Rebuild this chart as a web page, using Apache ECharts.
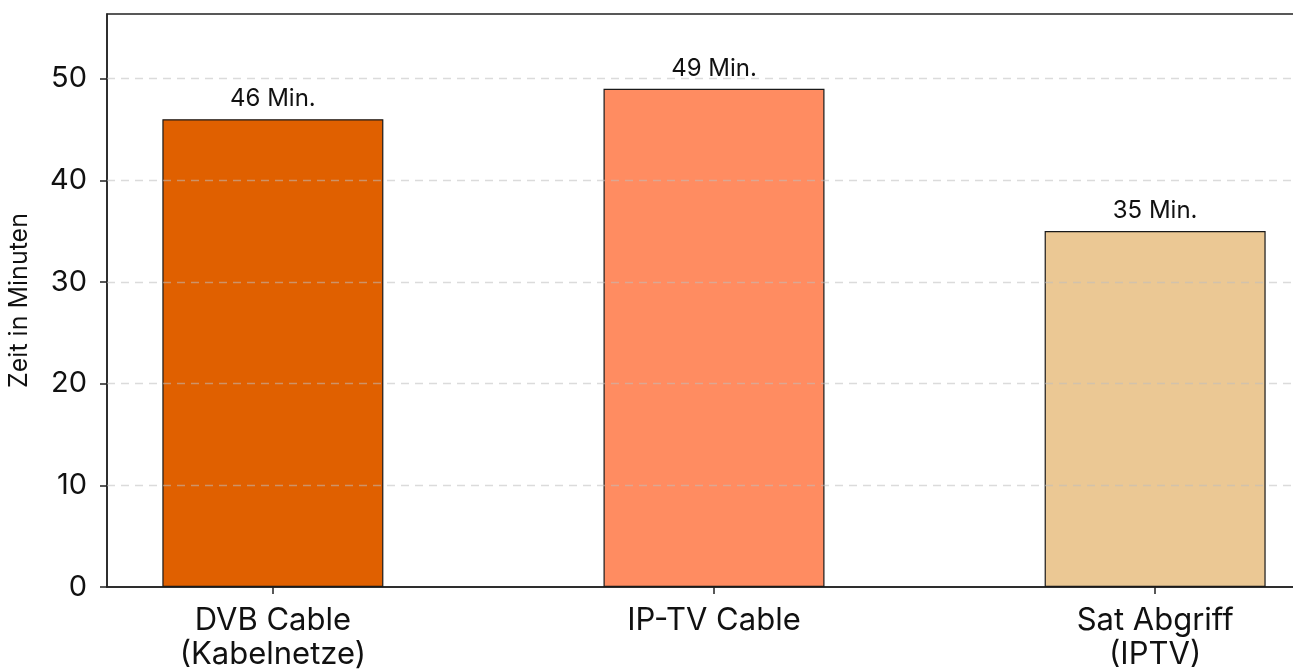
<!DOCTYPE html>
<html>
<head>
<meta charset="utf-8">
<script src="https://cdn.jsdelivr.net/npm/echarts@6/dist/echarts.min.js"></script>
<style>
html,body{margin:0;padding:0;background:#fff;}
#chart{width:1293px;height:669px;}
</style>
</head>
<body>
<div id="chart"></div>
<script>
const categories = ['DVB Cable\n(Kabelnetze)', 'IP-TV Cable', 'Sat Abgriff\n(IPTV)'];
const values = [46, 49, 35];
const barColors = ['#E06000', '#FF8C61', '#EBC894'];
const yTicks = [0, 10, 20, 30, 40, 50];
const gridTicks = [10, 20, 30, 40, 50];
const yTitle = 'Zeit in Minuten';
const labelSuffix = ' Min.';

const FONT = 'Inter, "Open Sans", sans-serif';
const chart = echarts.init(document.getElementById('chart'), null, {renderer: 'canvas'});
const xIdx = categories.map((c, i) => i);

chart.setOption({
  animation: false,
  grid: {left: 107, top: 14, bottom: 82, right: -28, outerBoundsMode: 'none', containLabel: false,
         show: true, borderColor: '#222', borderWidth: 1.5, backgroundColor: 'transparent'},
  xAxis: {
    type: 'value', min: -0.376, max: 2.376,
    splitLine: {show: false},
    axisLine: {show: true, onZero: false, lineStyle: {color: '#222', width: 1.5}},
    axisTick: {show: true, length: 7, lineStyle: {color: '#222', width: 1.5}, customValues: xIdx},
    axisLabel: {customValues: xIdx, formatter: v => categories[Math.round(v)] || '', color: '#111', fontSize: 31, fontFamily: FONT, margin: 17, lineHeight: 34}
  },
  yAxis: {
    type: 'value', min: 0, max: 49 * 1.15,
    name: yTitle, nameLocation: 'middle', nameGap: 75,
    nameTextStyle: {color: '#111', fontSize: 25, fontFamily: FONT},
    splitLine: {show: false},
    axisLine: {show: true, onZero: false, lineStyle: {color: '#222', width: 1.5}},
    axisTick: {show: true, length: 7, lineStyle: {color: '#222', width: 1.5}, customValues: yTicks},
    axisLabel: {customValues: yTicks, color: '#111', fontSize: 29, fontFamily: FONT, margin: 20}
  },
  series: [{
    type: 'bar',
    barWidth: 221,
    data: values.map((v, i) => ({value: [i, v], itemStyle: {color: barColors[i]}})),
    itemStyle: {borderColor: '#1a1a1a', borderWidth: 1.2},
    label: {show: true, position: 'top', distance: 8, formatter: p => p.value[1] + labelSuffix, color: '#111', fontSize: 24, fontFamily: FONT},
    markLine: {
      silent: true, symbol: 'none', label: {show: false},
      lineStyle: {type: [8, 6], color: 'rgba(190,190,190,0.55)', width: 1.3},
      data: gridTicks.map(t => ({yAxis: t}))
    }
  }]
});
</script>
</body>
</html>
